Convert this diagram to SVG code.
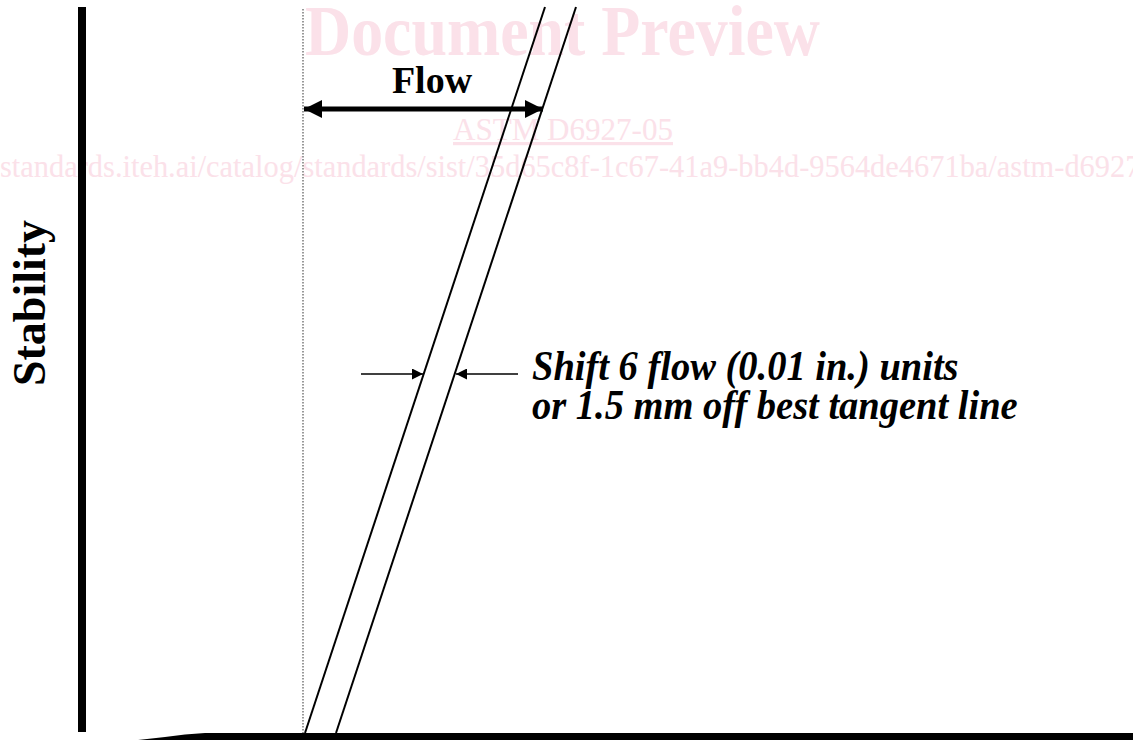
<svg xmlns="http://www.w3.org/2000/svg" width="1133" height="740" viewBox="0 0 1133 740">
<style>
.wm{fill:#fbe1e9;font-family:"Liberation Serif",serif}
.lbl{fill:#000;font-family:"Liberation Serif",serif;font-weight:bold}
.it{font-style:italic}
.ln{stroke:#000;stroke-width:2;fill:none}
</style>
<defs>
<marker id="ah" viewBox="0 0 10 10" refX="10" refY="5" markerWidth="22" markerHeight="18" markerUnits="userSpaceOnUse" orient="auto-start-reverse"><path d="M0,0 L10,5 L0,10 z" fill="#000"/></marker>
<marker id="sa" viewBox="0 0 10 10" refX="10" refY="5" markerWidth="14" markerHeight="11" markerUnits="userSpaceOnUse" orient="auto"><path d="M0,0 L10,5 L0,10 z" fill="#000"/></marker>
</defs>
<rect width="1133" height="740" fill="#fff"/>
<g id="watermark">
<text class="wm" x="305" y="55" font-size="71" font-weight="bold" textLength="515" lengthAdjust="spacingAndGlyphs">Document Preview</text>
<text class="wm" x="453" y="140" font-size="32" text-decoration="underline" textLength="220" lengthAdjust="spacingAndGlyphs">ASTM D6927-05</text>
<text class="wm" x="0" y="177" font-size="32" textLength="1181" lengthAdjust="spacingAndGlyphs">standards.iteh.ai/catalog/standards/sist/35d65c8f-1c67-41a9-bb4d-9564de4671ba/astm-d6927-05</text>
</g>
<g id="axes">
<rect x="78" y="7" width="8" height="725" fill="#000"/>
<path d="M138,740 L165,737 Q185,734 205,733 L1133,733 L1133,740 Z" fill="#000"/>
</g>
<g id="connectors">
<line x1="303" y1="9" x2="303" y2="733" stroke="#555" stroke-width="1.2" stroke-dasharray="1.5,1.5"/>
<line class="ln" x1="545" y1="7" x2="305" y2="733"/>
<line class="ln" x1="576" y1="7" x2="336" y2="733"/>
<line x1="304" y1="109" x2="543" y2="109" stroke="#000" stroke-width="5" marker-start="url(#ah)" marker-end="url(#ah)"/>
<line x1="361" y1="374" x2="423" y2="374" stroke="#000" stroke-width="1.5" marker-end="url(#sa)"/>
<line x1="518" y1="374" x2="456" y2="374" stroke="#000" stroke-width="1.5" marker-end="url(#sa)"/>
</g>
<g id="labels">
<text class="lbl" x="432" y="93" font-size="38" text-anchor="middle">Flow</text>
<text class="lbl" transform="translate(45,303) rotate(-90)" font-size="46" text-anchor="middle">Stability</text>
<text class="lbl it" transform="translate(532,380) scale(1,1.08)" font-size="38.5">Shift 6 flow (0.01 in.) units</text>
<text class="lbl it" transform="translate(532,419) scale(1,1.08)" font-size="38.5">or 1.5 mm off best tangent line</text>
</g>
</svg>
